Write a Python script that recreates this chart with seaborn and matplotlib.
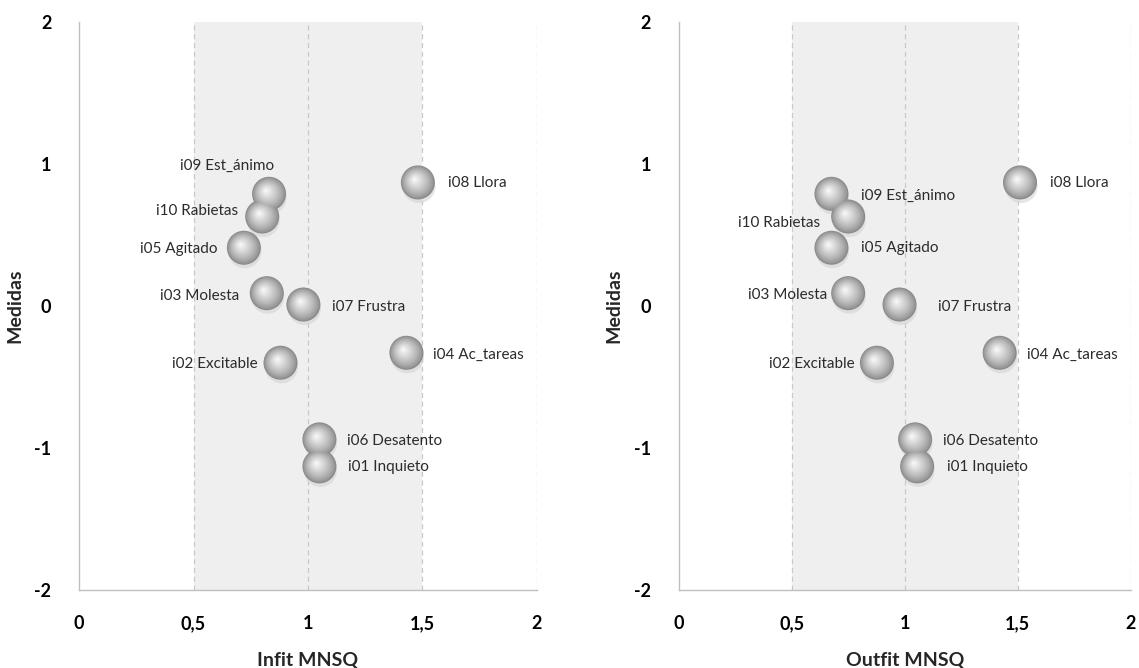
import numpy as np
import pandas as pd
import matplotlib
matplotlib.use("Agg")
import matplotlib.pyplot as plt
import matplotlib.transforms as mtransforms
from matplotlib.colors import to_rgb
import seaborn as sns

# ---- data ----
items = ["i01 Inquieto", "i02 Excitable", "i03 Molesta", "i04 Ac_tareas", "i05 Agitado",
         "i06 Desatento", "i07 Frustra", "i08 Llora", "i09 Est_ánimo", "i10 Rabietas"]
medidas = [-1.13, -0.40, 0.09, -0.33, 0.41, -0.94, 0.01, 0.87, 0.79, 0.63]
infit = [1.05, 0.88, 0.82, 1.43, 0.72, 1.05, 0.98, 1.48, 0.83, 0.80]
outfit = [1.055, 0.877, 0.75, 1.42, 0.676, 1.046, 0.977, 1.51, 0.676, 0.75]
xtick_vals = [0, 0.5, 1, 1.5, 2]
xtick_labels = ["0", "0,5", "1", "1,5", "2"]
ytick_vals = [-2, -1, 0, 1, 2]
ytick_labels = ["-2", "-1", "0", "1", "2"]

# ---- label layout (pixel offsets, alignment) ----
left_offsets = {
    "i01 Inquieto": (29, -1, "left"), "i02 Excitable": (-23, -1, "right"),
    "i03 Molesta": (-28, -3, "right"), "i04 Ac_tareas": (27, -2, "left"),
    "i05 Agitado": (-26, -1, "right"), "i06 Desatento": (28, -2, "left"),
    "i07 Frustra": (29, -2, "left"), "i08 Llora": (30, -1, "left"),
    "i09 Est_ánimo": (5, 28, "right"), "i10 Rabietas": (-24, 6, "right"),
}
right_offsets = {
    "i01 Inquieto": (30, -1, "left"), "i02 Excitable": (-22, -1, "right"),
    "i03 Molesta": (-21, -2, "right"), "i04 Ac_tareas": (27, -2, "left"),
    "i05 Agitado": (30, 0, "left"), "i06 Desatento": (28, -2, "left"),
    "i07 Frustra": (38, -2, "left"), "i08 Llora": (30, -1, "left"),
    "i09 Est_ánimo": (30, -2, "left"), "i10 Rabietas": (-28, -6, "right"),
}

sns.set_style("white")
plt.rcParams["font.family"] = ["Lato", "DejaVu Sans"]

df = pd.DataFrame({"item": items, "medidas": medidas, "infit": infit, "outfit": outfit})

fig = plt.figure(figsize=(11.39, 6.68), dpi=100)
ax1 = fig.add_axes([0.0694, 0.117, 0.402, 0.850])
ax2 = fig.add_axes([0.5958, 0.117, 0.397, 0.850])

axis_col = "#bfbfbf"
grid_col = "#c8c8c8"

def draw_panel(ax, xcol, xlabel, offsets):
    ax.set_xlim(0, 2)
    ax.set_ylim(-2, 2)
    ax.axvspan(0.5, 1.5, color="#efefef", zorder=0, lw=0)
    for xv in xtick_vals[1:]:
        ax.axvline(xv, color=grid_col, lw=0.9, ls=(0, (4, 3)), zorder=1)
    base = 600
    # soft shadow
    sh = mtransforms.offset_copy(ax.transData, fig=fig, x=1, y=-4, units="dots")
    sns.scatterplot(data=df, x=xcol, y="medidas", ax=ax, s=base * 0.95, color="#d4d4d4",
                    edgecolor="none", alpha=0.6, legend=False, zorder=2, transform=sh)
    # sphere: smooth layered radial gradient, highlight up-left
    n = 18
    c0 = np.array(to_rgb("#8a8a8a"))
    c1 = np.array(to_rgb("#fafafa"))
    for k in range(n):
        t = k / (n - 1)
        frac = (1 - t) * 0.97 + 0.03
        col = c0 + (c1 - c0) * (t ** 0.8)
        off = 3.3 * t
        tr = mtransforms.offset_copy(ax.transData, fig=fig, x=-off, y=off, units="dots")
        sns.scatterplot(data=df, x=xcol, y="medidas", ax=ax, s=base * frac ** 2 if k else base,
                        color=tuple(col), edgecolor="none", legend=False, zorder=3, transform=tr)
    for it, xv, yv in zip(df["item"], df[xcol], df["medidas"]):
        dx, dy, ha = offsets[it]
        ax.annotate(it, (xv, yv), xytext=(dx, dy), textcoords="offset pixels",
                    ha=ha, va="center", fontsize=11, color="#2b2b2b", zorder=4)
    for side in ["top", "right"]:
        ax.spines[side].set_visible(False)
    ax.spines["left"].set_color(axis_col)
    ax.spines["bottom"].set_color(axis_col)
    ax.spines["left"].set_linewidth(1.0)
    ax.spines["bottom"].set_linewidth(1.0)
    ax.set_xticks(xtick_vals)
    ax.set_xticklabels(xtick_labels, fontweight="bold", fontsize=13)
    ax.set_yticks(ytick_vals)
    ax.set_yticklabels(ytick_labels, fontweight="bold", fontsize=13)
    ax.tick_params(axis="x", direction="out", length=6, color=axis_col, pad=12, labelcolor="black")
    ax.tick_params(axis="y", direction="out", length=6, color=axis_col, pad=14, labelcolor="black")
    ax.set_xlabel(xlabel, fontweight="bold", fontsize=14, labelpad=14)
    ax.set_ylabel("Medidas", fontweight="bold", fontsize=14, labelpad=8)
    ax.grid(False)

draw_panel(ax1, "infit", "Infit MNSQ", left_offsets)
draw_panel(ax2, "outfit", "Outfit MNSQ", right_offsets)

fig.savefig("out.png", dpi=100, facecolor="white")
